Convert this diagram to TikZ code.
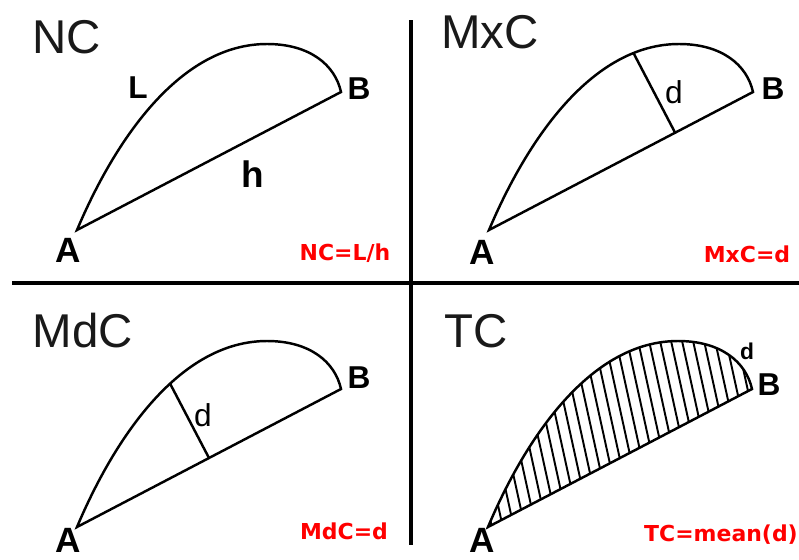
\documentclass[tikz,border=0pt]{standalone}
\usepackage{fontspec}
\setmainfont{Liberation Sans}
\newfontfamily\fuenteroja{DejaVu Sans}
\usepackage{tikz}
\usetikzlibrary{calc,intersections}
\tikzset{
  borde/.style={draw=black, line width=1.4pt, line join=miter},
  divisor/.style={draw=black, line width=2pt},
  rayado/.style={draw=black, line width=1.1pt},
  titulo/.style={font=\fontsize{27}{30}\selectfont, text=black!90, inner sep=0pt},
  letraA/.style={font=\bfseries\fontsize{20}{22}\selectfont, inner sep=0pt},
  letraB/.style={font=\bfseries\fontsize{18}{20}\selectfont, inner sep=0pt},
  distancia/.style={font=\fontsize{18}{20}\selectfont, inner sep=0pt},
  formula/.style={font=\fuenteroja\bfseries\fontsize{12.5}{14}\selectfont, text=red, inner sep=0pt}
}
\begin{document}
\begin{tikzpicture}[x=0.02cm, y=-0.02cm]
  \useasboundingbox (0,0) rectangle (799,559);

  % --- Divisores ---
  \coordinate (Harr) at (411,20);
  \coordinate (Hab) at (411,545);
  \coordinate (Vizq) at (12,283);
  \coordinate (Vder) at (799,283);
  \draw[divisor] (Harr) -- (Hab);
  \draw[divisor] (Vizq) -- (Vder);

  % --- Rayado (TC) ---
  \begin{scope}[shift={(488,527)}]
    \clip (0,0) .. controls (38,-90) and (103,-186) .. (190,-186)
          .. controls (233,-186) and (258,-165) .. (264,-138) -- cycle;
    \foreach \x in {-62,-51,...,270} \draw[rayado] (\x,-200) -- ++(46,210);
  \end{scope}

  % --- Contornos ---
  \foreach \px/\py/\n in {77/230/nc, 489/230/mx, 77/527/md, 488/527/tc} {
    \begin{scope}[shift={(\px,\py)}]
      \coordinate (A\n) at (0,0);
      \coordinate (B\n) at (264,-138);
      \path[name path global=arco\n] (A\n) .. controls (38,-90) and (103,-186) .. (190,-186)
           .. controls (233,-186) and (258,-165) .. (B\n);
      \draw[borde] (A\n) .. controls (38,-90) and (103,-186) .. (190,-186)
           .. controls (233,-186) and (258,-165) .. (B\n) -- cycle;
    \end{scope}
  }

  % --- Distancias d ---
  \coordinate (Mmx) at ($(Amx)!0.705!(Bmx)$);
  \path[name path=perpmx] (Mmx) -- ($(Mmx)!3cm!90:(Bmx)$);
  \path[name intersections={of=arcomx and perpmx, by=Pmx}];
  \draw[borde] (Mmx) -- (Pmx);
  \coordinate (Mmd) at ($(Amd)!0.5!(Bmd)$);
  \path[name path=perpmd] (Mmd) -- ($(Mmd)!3cm!90:(Bmd)$);
  \path[name intersections={of=arcomd and perpmd, by=Pmd}];
  \draw[borde] (Mmd) -- (Pmd);

  % --- Titulos ---
  \node[titulo] (tNC) at (67,37) {NC};
  \node[titulo] (tMxC) at (490,32) {MxC};
  \node[titulo] (tMdC) at (83,331) {MdC};
  \node[titulo] (tTC) at (476,331) {TC};

  % --- Extremos A y B ---
  \node[letraA] (lAnc) at (68,250) {A};
  \node[letraB] (lBnc) at (359,89) {B};
  \node[letraA] (lAmx) at (482,252) {A};
  \node[letraB] (lBmx) at (773,89) {B};
  \node[letraA] (lAmd) at (68,540) {A};
  \node[letraB] (lBmd) at (359,378) {B};
  \node[letraA] (lAtc) at (482,540) {A};
  \node[letraB] (lBtc) at (769,385) {B};

  % --- Etiquetas ---
  \node[font=\bfseries\fontsize{18}{20}\selectfont, inner sep=0pt] (lL) at (138,88) {L};
  \node[font=\bfseries\fontsize{21}{23}\selectfont, inner sep=0pt] (lh) at (253,174) {h};
  \node[distancia] (dmx) at (674,92) {d};
  \node[distancia] (dmd) at (203,415) {d};
  \node[font=\bfseries\fontsize{13}{15}\selectfont, inner sep=0pt] (dtc) at (747,351) {d};

  % --- Formulas ---
  \node[formula] (fNC) at (345,253) {NC=L/h};
  \node[formula] (fMxC) at (747,254) {MxC=d};
  \node[formula] (fMdC) at (344,531) {MdC=d};
  \node[formula] (fTC) at (721,535) {TC=mean(d)};
\end{tikzpicture}
\end{document}
